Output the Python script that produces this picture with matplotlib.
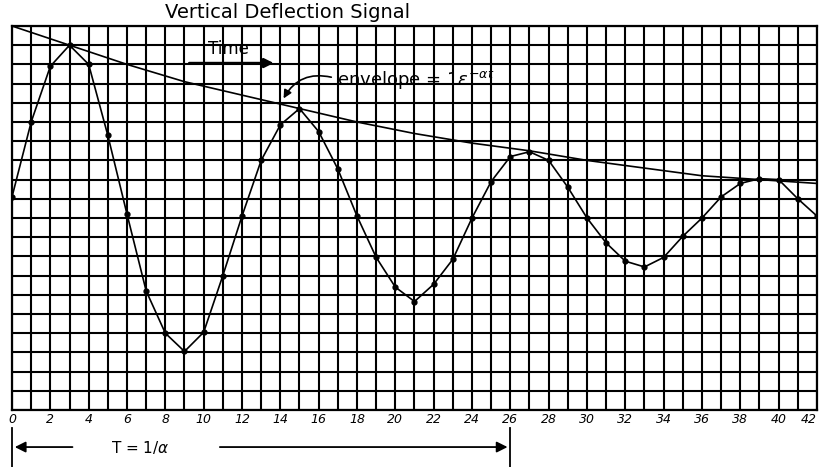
import numpy as np
import matplotlib
matplotlib.use("Agg")
import matplotlib.pyplot as plt

# time axis (grid units) and signal
t = list(range(43))
signal = [11.1, 15.0, 17.9, 19.0, 18.0, 14.3, 10.2, 6.2, 4.0, 3.05, 4.05, 7.0,
          10.1, 13.0, 14.85, 15.7, 14.5, 12.55, 10.1, 7.95, 6.4, 5.65, 6.55,
          7.85, 10.0, 11.9, 13.2, 13.45, 13.0, 11.6, 10.0, 8.7, 7.75, 7.45,
          7.95, 9.05, 10.0, 11.1, 11.8, 12.05, 12.0, 11.0, 10.1]

# envelope line
env_t = [0, 3, 6, 9, 12, 15, 18, 21, 24, 27, 30, 33, 36, 39, 42]
env_y = [20.0, 19.0, 18.0, 17.1, 16.4, 15.7, 15.0, 14.4, 13.9, 13.5, 13.0,
         12.6, 12.2, 12.0, 11.8]

xtick_labels = [str(v) if v % 2 == 0 else "" for v in t]
period_T = 26

fig = plt.figure(figsize=(8.23, 4.67), dpi=100)
ax = fig.add_axes([12 / 823, 57 / 467, 805 / 823, 384 / 467])

ax.set_xlim(0, 42)
ax.set_ylim(0, 20)
ax.set_xticks(t)
ax.set_xticklabels(xtick_labels, fontsize=9, fontstyle="italic")
ax.get_xticklabels()[-1].set_ha("right")
ax.set_yticks(range(21))
ax.set_yticklabels([])
ax.tick_params(length=0, pad=2)
ax.grid(True, color="black", linewidth=1.5)
for s in ax.spines.values():
    s.set_linewidth(1.6)

ax.plot(env_t, env_y, color="black", linewidth=1.2)
ax.plot(t, signal, color="black", linewidth=1.2, marker="o", markersize=3.5)

# dashed marker at t = 13
ax.plot([13, 13], [0, 16.0], color="black", linewidth=1.2, linestyle=(0, (8, 3)))

fig.text(288 / 823, 1 - 13 / 467, "Vertical Deflection Signal", fontsize=14,
         ha="center", va="center")

ax.text(11.3, 18.8, "Time", fontsize=12, ha="center", va="center")
ax.annotate("", xy=(13.8, 18.07), xytext=(9.1, 18.07),
            arrowprops=dict(arrowstyle="-|>", color="black", lw=1.8, mutation_scale=14))

ax.text(16.95, 16.9, r"envelope = 1$\varepsilon^{-\alpha t}$", fontsize=13,
        ha="left", va="baseline")
ax.annotate("", xy=(14.1, 16.1), xytext=(16.8, 17.3),
            arrowprops=dict(arrowstyle="-|>", color="black", lw=1.2,
                            mutation_scale=12, connectionstyle="arc3,rad=0.4"))

# T = 1/alpha bracket below the axis
yb = -1.93
ax.plot([0, 0], [-0.94, -2.98], color="black", linewidth=1.3, clip_on=False)
ax.plot([period_T, period_T], [-0.94, -2.98], color="black", linewidth=1.3, clip_on=False)
ax.annotate("", xy=(0, yb), xytext=(3.3, yb), annotation_clip=False,
            arrowprops=dict(arrowstyle="-|>", color="black", lw=1.3, mutation_scale=16))
ax.annotate("", xy=(period_T, yb), xytext=(10.7, yb), annotation_clip=False,
            arrowprops=dict(arrowstyle="-|>", color="black", lw=1.3, mutation_scale=16))
ax.text(6.7, yb, r"T = 1/$\alpha$", fontsize=11, ha="center", va="center")

fig.savefig("out.png", dpi=100)
